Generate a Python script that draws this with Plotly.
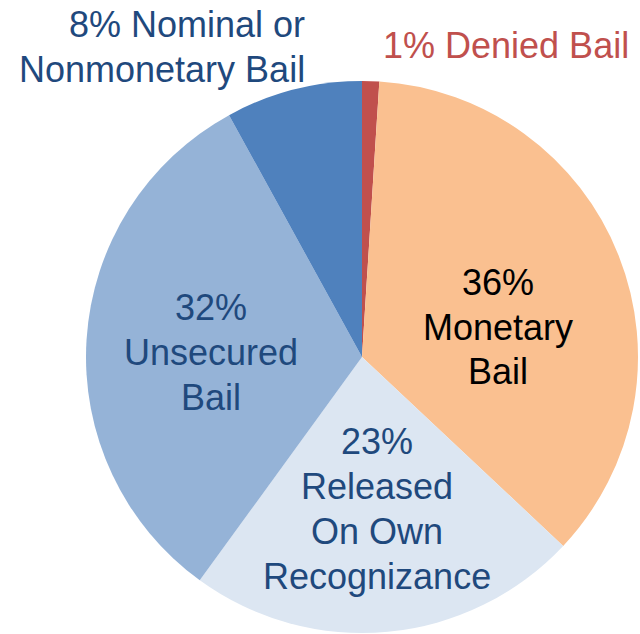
import plotly.graph_objects as go

# Share of cases by pretrial release outcome (clockwise from 12 o'clock)
categories = ["Denied Bail", "Monetary Bail", "Released On Own Recognizance",
              "Unsecured Bail", "Nominal or Nonmonetary Bail"]
percents = [1, 36, 23, 32, 8]
slice_colors = ["#C0504D", "#FAC090", "#DCE6F2", "#95B3D7", "#4F81BD"]

# Label text for each slice, one entry per line
label_lines = [
    ["{p}% Denied Bail"],
    ["{p}%", "Monetary", "Bail"],
    ["{p}%", "Released", "On Own", "Recognizance"],
    ["{p}%", "Unsecured", "Bail"],
    ["{p}% Nominal or", "Nonmonetary Bail"],
]
label_colors = ["#C0504D", "#000000", "#1F497D", "#1F497D", "#1F497D"]

W, H = 640, 634
cx, cy, r = 362, 357, 276
FONT = "Liberation Sans, Arial, sans-serif"

fig = go.Figure(go.Pie(
    labels=categories,
    values=percents,
    sort=False,
    direction="clockwise",
    rotation=0,
    marker=dict(colors=slice_colors, line=dict(width=0)),
    textinfo="none",
    hoverinfo="label+percent",
    showlegend=False,
    domain=dict(x=[(cx - r) / W, (cx + r) / W],
                y=[(H - cy - r) / H, (H - cy + r) / H]),
))

# label anchor: x (px), first line centre y (px), x anchor, line gap (px)
placements = [
    (381, 45.5, "left", 45),
    (498, 282.5, "center", 44.5),
    (377, 441, "center", 45.3),
    (211, 307.5, "center", 44.8),
    (307, 25, "right", 45),
]

for lines, pct, col, (px, py, xa, gap) in zip(label_lines, percents, label_colors, placements):
    for i, line in enumerate(lines):
        fig.add_annotation(
            x=px / W, y=1 - (py + i * gap) / H, xref="paper", yref="paper",
            xanchor=xa, yanchor="middle", showarrow=False,
            text=line.format(p=pct),
            font=dict(family=FONT, size=36, color=col),
        )

fig.update_layout(
    width=W, height=H,
    margin=dict(l=0, r=0, t=0, b=0),
    paper_bgcolor="white", plot_bgcolor="white",
)

fig.write_html("out.html")
